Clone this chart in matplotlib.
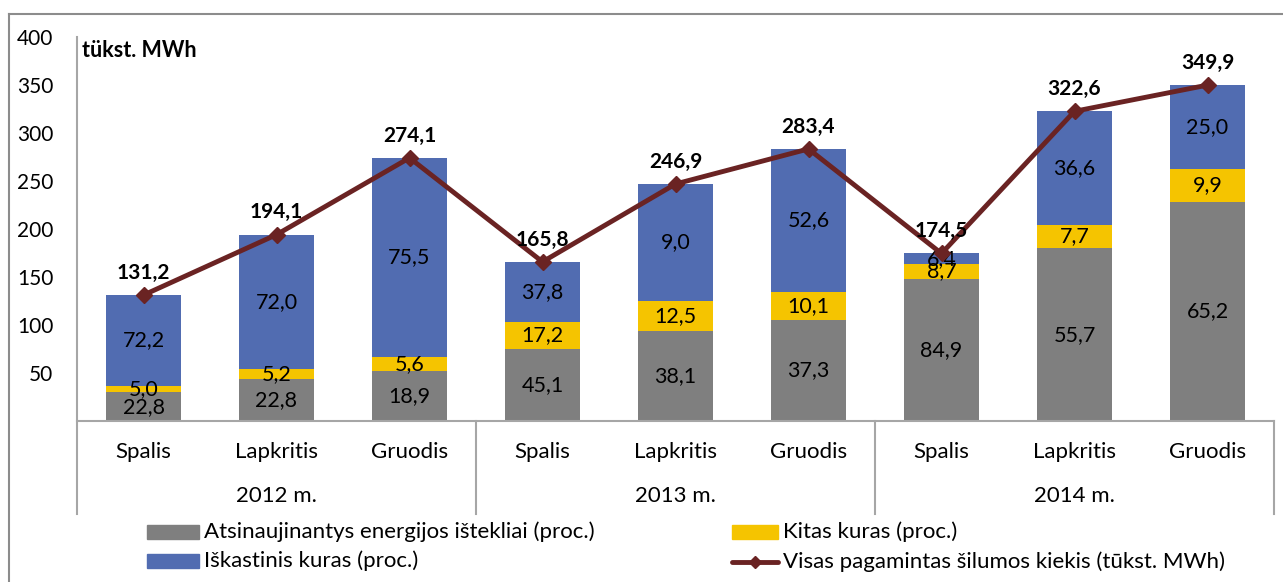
import matplotlib
matplotlib.use("Agg")
import matplotlib.pyplot as plt
from matplotlib.lines import Line2D
from matplotlib.patches import Rectangle

plt.rcParams['font.family'] = ['Lato', 'DejaVu Sans']

months = ["Spalis", "Lapkritis", "Gruodis"] * 3
years = ["2012 m.", "2013 m.", "2014 m."]
renew_pct = [22.8, 22.8, 18.9, 45.1, 38.1, 37.3, 84.9, 55.7, 65.2]
other_pct = [5.0, 5.2, 5.6, 17.2, 12.5, 10.1, 8.7, 7.7, 9.9]
fossil_pct = [72.2, 72.0, 75.5, 37.8, 9.0, 52.6, 6.4, 36.6, 25.0]
total = [131.2, 194.1, 274.1, 165.8, 246.9, 283.4, 174.5, 322.6, 349.9]
yticks = [50, 100, 150, 200, 250, 300, 350, 400]

C_GREY = "#7F7F7F"
C_YEL = "#F5C400"
C_BLUE = "#516CB1"
C_LINE = "#6A2323"
C_AX = "#A6A6A6"

W, H = 1283, 582
fig = plt.figure(figsize=(W / 100, H / 100), dpi=100)
L, R, T, B = 77, 1274, 37, 421
ax = fig.add_axes([L / W, 1 - B / H, (R - L) / W, (B - T) / H])

x = list(range(len(total)))
g_h = [t * p / 100 for t, p in zip(total, renew_pct)]
y_h = [t * p / 100 for t, p in zip(total, other_pct)]
b_h = [t - a - b for t, a, b in zip(total, g_h, y_h)]
y_bot = g_h
b_bot = [a + b for a, b in zip(g_h, y_h)]

bw = 0.565
ax.bar(x, g_h, width=bw, color=C_GREY, zorder=2)
ax.bar(x, y_h, width=bw, bottom=y_bot, color=C_YEL, zorder=2)
ax.bar(x, b_h, width=bw, bottom=b_bot, color=C_BLUE, zorder=2)

fs_lab = 15.5
for i in x:
    ax.text(i, g_h[i] / 2, f"{renew_pct[i]:.1f}".replace(".", ","), ha="center", va="center",
            fontsize=fs_lab, zorder=3)
    ax.text(i, y_bot[i] + y_h[i] / 2, f"{other_pct[i]:.1f}".replace(".", ","), ha="center",
            va="center", fontsize=fs_lab, zorder=3)
    ax.text(i, b_bot[i] + b_h[i] / 2, f"{fossil_pct[i]:.1f}".replace(".", ","), ha="center",
            va="center", fontsize=fs_lab, zorder=3)

ax.plot(x, total, color=C_LINE, lw=3.5, marker="D", ms=8.5, zorder=4)
for i in x:
    ax.annotate(f"{total[i]:.1f}".replace(".", ","), (i, total[i]), xytext=(0, 16),
                textcoords="offset points", ha="center", va="center", fontsize=15,
                fontweight="bold", zorder=5)

ax.set_xlim(-0.5, len(total) - 0.5)
ax.set_ylim(0, 400)
ax.set_yticks(yticks)
ax.set_yticklabels([str(v) for v in yticks], fontsize=15)
ax.tick_params(axis="y", length=0, pad=17)
ax.set_xticks([])
for s in ["top", "right", "left"]:
    ax.spines[s].set_visible(False)
ax.spines["bottom"].set_color(C_AX)
ax.spines["bottom"].set_linewidth(1.5)

ax.text(0.004, 0.965, "tükst. MWh", transform=ax.transAxes, fontsize=15.5,
        fontweight="bold", ha="left", va="center")

# category axis (multi-level)
tr = ax.get_xaxis_transform()
def py(px):
    return (B - px) / (B - T)
ax.plot([-0.5, -0.5], [py(514), 1.0], transform=tr, color=C_AX, lw=1.5, clip_on=False)
for sx in [2.5, 5.5, 8.5]:
    ax.plot([sx, sx], [py(514), 0], transform=tr, color=C_AX, lw=1.5, clip_on=False)
for i, m in enumerate(months):
    ax.text(i, py(452), m, transform=tr, ha="center", va="center", fontsize=16)
for j, yr in enumerate(years):
    ax.text(3 * j + 1, py(496), yr, transform=tr, ha="center", va="center", fontsize=16)

# outer border (top and left)
fig.add_artist(Line2D([9 / W, 1.0], [1 - 14 / H, 1 - 14 / H], color="#8C8C8C", lw=1.5))
fig.add_artist(Line2D([9 / W, 9 / W], [0, 1 - 14 / H], color="#8C8C8C", lw=1.5))

# legend
def fx(px):
    return px / W
def fy(px):
    return 1 - px / H
leg_items = [
    ("patch", C_GREY, 147, 199, 532, "Atsinaujinantys energijos ištekliai (proc.)"),
    ("patch", C_YEL, 732, 778, 532, "Kitas kuras (proc.)"),
    ("patch", C_BLUE, 147, 199, 561, "Iškastinis kuras (proc.)"),
    ("line", C_LINE, 732, 778, 562, "Visas pagamintas šilumos kiekis (tūkst. MWh)"),
]
for kind, col, x0, x1, yc, lab in leg_items:
    if kind == "patch":
        fig.add_artist(Rectangle((fx(x0), fy(yc + 7)), fx(x1) - fx(x0), 14 / H,
                                 color=col, transform=fig.transFigure))
    else:
        fig.add_artist(Line2D([fx(x0), fx(x1)], [fy(yc), fy(yc)], color=col, lw=3.5,
                              solid_capstyle="round"))
        fig.add_artist(Line2D([fx((x0 + x1) / 2)], [fy(yc)], color=col, marker="D", ms=6))
    fig.text(fx(x1 + 5), fy(yc), lab, ha="left", va="center", fontsize=16)

fig.savefig("out.png", dpi=100)
